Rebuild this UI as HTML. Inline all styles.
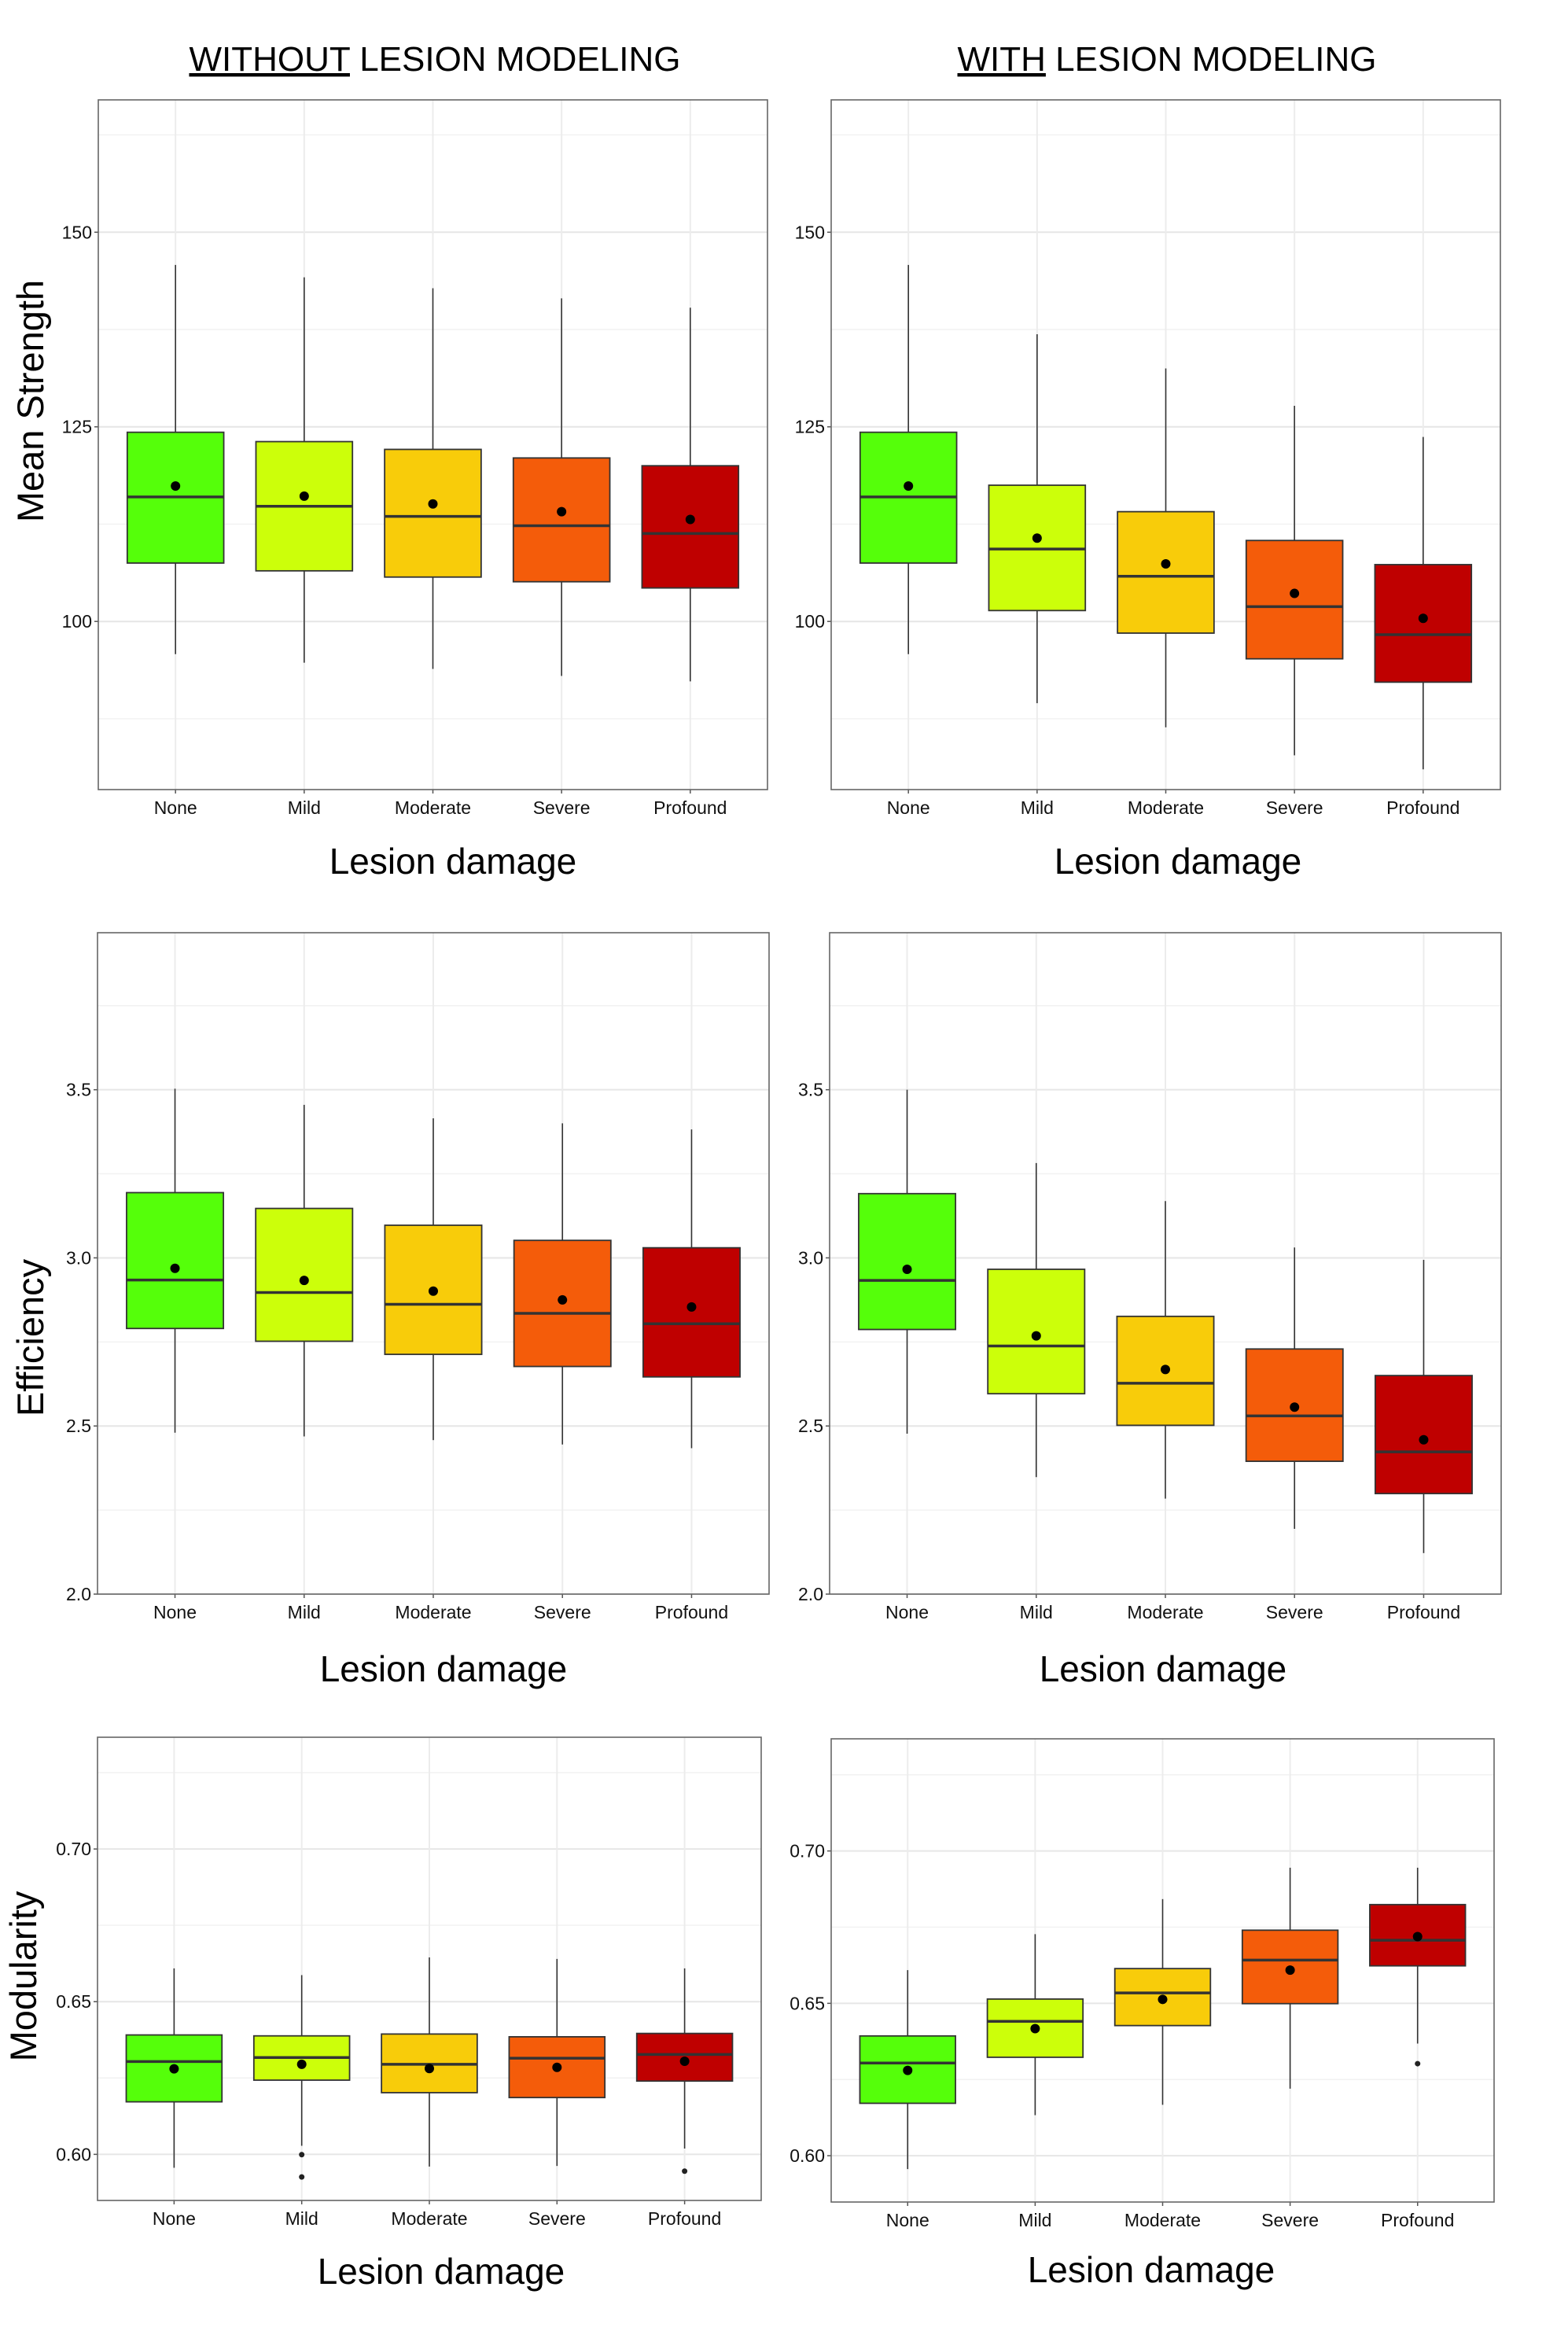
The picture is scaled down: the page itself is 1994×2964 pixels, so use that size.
<!DOCTYPE html>
<html><head><meta charset="utf-8"><style>
html,body{margin:0;padding:0;background:#fff}
svg{display:block}
text{font-family:"Liberation Sans",Arial,sans-serif}
</style></head><body>
<svg id="fig" width="1994" height="2964" viewBox="0 0 1994 2964" xmlns="http://www.w3.org/2000/svg">
<text x="553" y="90" font-size="44" text-anchor="middle"><tspan text-decoration="underline">WITHOUT</tspan> LESION MODELING</text>
<text x="1484" y="90" font-size="44" text-anchor="middle"><tspan text-decoration="underline">WITH</tspan> LESION MODELING</text>
<text transform="translate(55,510) rotate(-90)" font-size="47" text-anchor="middle">Mean Strength</text>
<text transform="translate(55,1701) rotate(-90)" font-size="47" text-anchor="middle">Efficiency</text>
<text transform="translate(46,2513) rotate(-90)" font-size="47" text-anchor="middle">Modularity</text>
</svg>
<script>
const categories = ["None","Mild","Moderate","Severe","Profound"];
const colors = ["#55ff0a","#ccff0a","#f8cc0a","#f45c0a","#bf0000"];

const strengthWithoutLow = [95.8,94.7,93.9,93.0,92.3];
const strengthWithoutQ1 = [107.5,106.5,105.7,105.1,104.3];
const strengthWithoutMedian = [116.0,114.8,113.5,112.3,111.3];
const strengthWithoutQ3 = [124.3,123.1,122.1,121.0,120.0];
const strengthWithoutHigh = [145.8,144.2,142.8,141.5,140.3];
const strengthWithoutMean = [117.4,116.1,115.1,114.1,113.1];

const strengthWithLow = [95.8,89.5,86.4,82.8,81.0];
const strengthWithQ1 = [107.5,101.4,98.5,95.2,92.2];
const strengthWithMedian = [116.0,109.3,105.8,101.9,98.3];
const strengthWithQ3 = [124.3,117.5,114.1,110.4,107.3];
const strengthWithHigh = [145.8,136.9,132.5,127.7,123.7];
const strengthWithMean = [117.4,110.7,107.4,103.6,100.4];

const effWithoutLow = [2.480,2.469,2.458,2.445,2.434];
const effWithoutQ1 = [2.790,2.752,2.713,2.677,2.646];
const effWithoutMedian = [2.934,2.897,2.862,2.835,2.804];
const effWithoutQ3 = [3.194,3.147,3.097,3.052,3.030];
const effWithoutHigh = [3.503,3.455,3.415,3.400,3.382];
const effWithoutMean = [2.969,2.933,2.901,2.875,2.854];

const effWithLow = [2.477,2.348,2.284,2.194,2.122];
const effWithQ1 = [2.787,2.596,2.502,2.395,2.299];
const effWithMedian = [2.933,2.738,2.627,2.530,2.423];
const effWithQ3 = [3.191,2.966,2.826,2.729,2.650];
const effWithHigh = [3.500,3.282,3.169,3.031,2.994];
const effWithMean = [2.966,2.768,2.668,2.556,2.459];

const modWithoutLow = [0.5956,0.6028,0.5960,0.5962,0.6019];
const modWithoutQ1 = [0.6172,0.6243,0.6202,0.6186,0.6240];
const modWithoutMedian = [0.6304,0.6317,0.6295,0.6315,0.6327];
const modWithoutQ3 = [0.6391,0.6388,0.6394,0.6385,0.6396];
const modWithoutHigh = [0.6609,0.6587,0.6645,0.6640,0.6609];
const modWithoutMean = [0.6280,0.6295,0.6281,0.6285,0.6305];
const modWithoutOutliers = [[],[0.5999,0.5926],[],[],[0.5945]];

const modWithLow = [0.5956,0.6133,0.6167,0.6220,0.6368];
const modWithQ1 = [0.6172,0.6323,0.6427,0.6499,0.6623];
const modWithMedian = [0.6304,0.6441,0.6534,0.6642,0.6707];
const modWithQ3 = [0.6393,0.6514,0.6614,0.6740,0.6824];
const modWithHigh = [0.6609,0.6727,0.6842,0.6945,0.6945];
const modWithMean = [0.6280,0.6417,0.6513,0.6609,0.6719];
const modWithOutliers = [[],[],[],[],[0.6302]];

const strengthTicks = [100,125,150];
const strengthTickLabels = ["100","125","150"];
const effTicks = [2.0,2.5,3.0,3.5];
const effTickLabels = ["2.0","2.5","3.0","3.5"];
const modTicks = [0.60,0.65,0.70];
const modTickLabels = ["0.60","0.65","0.70"];

const NS = "http://www.w3.org/2000/svg";
const svg = document.getElementById("fig");
function mk(tag, attrs, parent){
  const e = document.createElementNS(NS, tag);
  for (const k in attrs) e.setAttribute(k, attrs[k]);
  (parent||svg).appendChild(e);
  return e;
}

function drawPanel(p){
  const g = mk("g", {});
  
  
  const yS = v => p.y1 - (v - p.dmin) / (p.dmax - p.dmin) * (p.y1 - p.y0);
  const unit = (p.x1 - p.x0) / 5.2;
  const xS = i => p.x0 + (0.6 + i) * unit;
  const bg = mk("rect", {x:p.x0, y:p.y0, width:p.x1-p.x0, height:p.y1-p.y0, fill:"#fff"}, g);
  
  
  const step = p.ticks[1] - p.ticks[0];
  for (let v = p.ticks[0] - step/2; v < p.dmax; v += step){
    if (v <= p.dmin) continue;
    const y = yS(v);
    const l = mk("line", {x1:p.x0, x2:p.x1, y1:y, y2:y, stroke:"#f2f2f2", "stroke-width":1.5}, g);
    
    
  }
  p.ticks.forEach((v, i) => {
    const y = yS(v);
    const l = mk("line", {x1:p.x0, x2:p.x1, y1:y, y2:y, stroke:"#e6e6e6", "stroke-width":2}, g);
    
    
    const t = mk("line", {x1:p.x0-5, x2:p.x0, y1:y, y2:y, stroke:"#555", "stroke-width":1.5}, g);
    
    
    const tx = mk("text", {x:p.x0-8, y:y+8, "font-size":23, "text-anchor":"end", fill:"#111"}, g);
    
    
    tx.textContent = p.tickLabels[i];
  });
  categories.forEach((c, i) => {
    const x = xS(i);
    const l = mk("line", {x1:x, x2:x, y1:p.y0, y2:p.y1, stroke:"#ececec", "stroke-width":2}, g);
    
    
  });
  const hw = unit * 0.375;
  categories.forEach((c, i) => {
    const x = xS(i);
    const w1 = mk("line", {x1:x, x2:x, y1:yS(p.high[i]), y2:yS(p.q3[i]), stroke:"#333", "stroke-width":1.6}, g);
    
    
    const w2 = mk("line", {x1:x, x2:x, y1:yS(p.q1[i]), y2:yS(p.low[i]), stroke:"#333", "stroke-width":1.6}, g);
    
    
    const b = mk("rect", {x:x-hw, y:yS(p.q3[i]), width:2*hw, height:yS(p.q1[i])-yS(p.q3[i]), fill:colors[i], stroke:"#333", "stroke-width":1.8}, g);
    
    
    const m = mk("line", {x1:x-hw, x2:x+hw, y1:yS(p.median[i]), y2:yS(p.median[i]), stroke:"#333", "stroke-width":3.5}, g);
    
    
    const d = mk("circle", {cx:x, cy:yS(p.mean[i]), r:6, fill:"#000"}, g);
    
    
    (p.outliers ? p.outliers[i] : []).forEach(v => {
      const o = mk("circle", {cx:x, cy:yS(v), r:3.5, fill:"#222"}, g);
      
      
    });
    const t = mk("line", {x1:x, x2:x, y1:p.y1, y2:p.y1+5, stroke:"#555", "stroke-width":1.5}, g);
    
    
    const tx = mk("text", {x:x, y:p.y1+31, "font-size":23, "text-anchor":"middle", fill:"#111"}, g);
    
    
    tx.textContent = c;
  });
  const fr = mk("rect", {x:p.x0, y:p.y0, width:p.x1-p.x0, height:p.y1-p.y0, fill:"none", stroke:"#666", "stroke-width":1.6}, g);
  
  
  const xt = mk("text", {x:p.xtX, y:p.xtY, "font-size":46, "text-anchor":"middle", fill:"#000"}, g);
  
  
  xt.textContent = "Lesion damage";
}

drawPanel({name:"strength-without-panel", x0:125, x1:976, y0:127, y1:1004, dmin:78.4, dmax:167.0, ticks:strengthTicks, tickLabels:strengthTickLabels,
  low:strengthWithoutLow, q1:strengthWithoutQ1, median:strengthWithoutMedian, q3:strengthWithoutQ3, high:strengthWithoutHigh, mean:strengthWithoutMean, xtX:576, xtY:1111});
drawPanel({name:"strength-with-panel", x0:1057, x1:1908, y0:127, y1:1004, dmin:78.4, dmax:167.0, ticks:strengthTicks, tickLabels:strengthTickLabels,
  low:strengthWithLow, q1:strengthWithQ1, median:strengthWithMedian, q3:strengthWithQ3, high:strengthWithHigh, mean:strengthWithMean, xtX:1498, xtY:1111});
drawPanel({name:"efficiency-without-panel", x0:124, x1:978, y0:1186, y1:2027, dmin:2.0, dmax:3.967, ticks:effTicks, tickLabels:effTickLabels,
  low:effWithoutLow, q1:effWithoutQ1, median:effWithoutMedian, q3:effWithoutQ3, high:effWithoutHigh, mean:effWithoutMean, xtX:564, xtY:2138});
drawPanel({name:"efficiency-with-panel", x0:1055, x1:1909, y0:1186, y1:2027, dmin:2.0, dmax:3.967, ticks:effTicks, tickLabels:effTickLabels,
  low:effWithLow, q1:effWithQ1, median:effWithMedian, q3:effWithQ3, high:effWithHigh, mean:effWithMean, xtX:1479, xtY:2138});
drawPanel({name:"modularity-without-panel", x0:124, x1:968, y0:2209, y1:2798, dmin:0.5849, dmax:0.7366, ticks:modTicks, tickLabels:modTickLabels,
  low:modWithoutLow, q1:modWithoutQ1, median:modWithoutMedian, q3:modWithoutQ3, high:modWithoutHigh, mean:modWithoutMean, outliers:modWithoutOutliers, xtX:561, xtY:2904});
drawPanel({name:"modularity-with-panel", x0:1057, x1:1900, y0:2211, y1:2800, dmin:0.5848, dmax:0.7368, ticks:modTicks, tickLabels:modTickLabels,
  low:modWithLow, q1:modWithQ1, median:modWithMedian, q3:modWithQ3, high:modWithHigh, mean:modWithMean, outliers:modWithOutliers, xtX:1464, xtY:2902});
</script>
</body></html>
